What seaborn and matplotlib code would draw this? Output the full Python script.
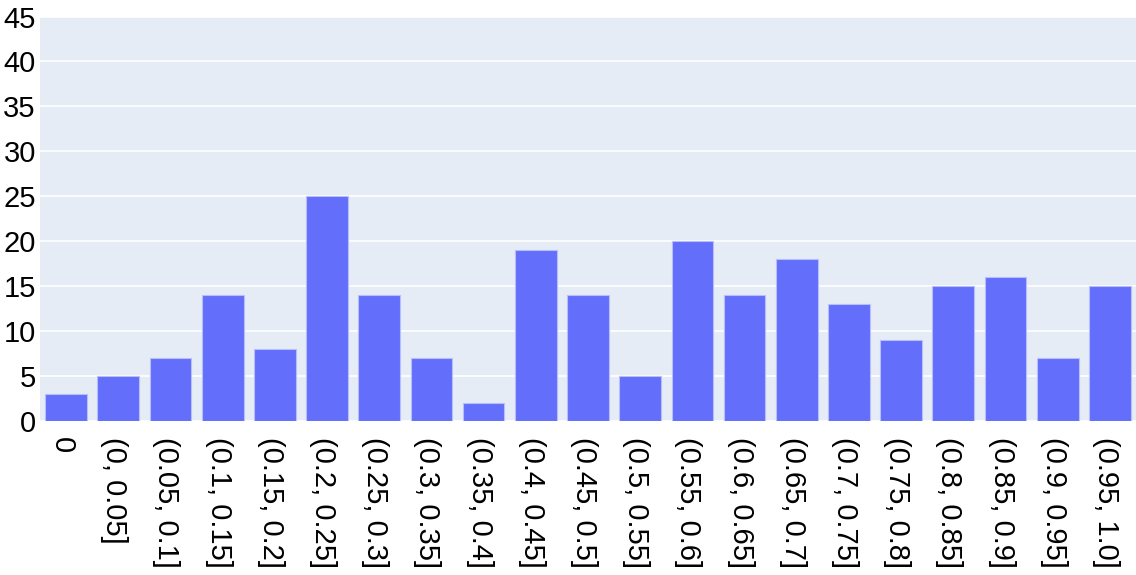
import pandas as pd
import matplotlib
matplotlib.use("Agg")
import matplotlib.pyplot as plt
import matplotlib.transforms as mtransforms
import seaborn as sns

# bins and counts
bins = ["0", "(0, 0.05]", "(0.05, 0.1]", "(0.1, 0.15]", "(0.15, 0.2]", "(0.2, 0.25]",
        "(0.25, 0.3]", "(0.3, 0.35]", "(0.35, 0.4]", "(0.4, 0.45]", "(0.45, 0.5]",
        "(0.5, 0.55]", "(0.55, 0.6]", "(0.6, 0.65]", "(0.65, 0.7]", "(0.7, 0.75]",
        "(0.75, 0.8]", "(0.8, 0.85]", "(0.85, 0.9]", "(0.9, 0.95]", "(0.95, 1.0]"]
counts = [3, 5, 7, 14, 8, 25, 14, 7, 2, 19, 14, 5, 20, 14, 18, 13, 9, 15, 16, 7, 15]
y_ticks = [0, 5, 10, 15, 20, 25, 30, 35, 40, 45]

df = pd.DataFrame({"bin": bins, "count": counts})

sns.set_theme(style="white")
plt.rcParams["font.family"] = ["Liberation Sans", "DejaVu Sans"]

fig = plt.figure(figsize=(11.36, 5.75), dpi=100)
ax = fig.add_axes([40 / 1136, (575 - 420.5) / 575, 1 - 40 / 1136, (420.5 - 16.5) / 575])
ax.set_facecolor("#E5ECF6")

sns.barplot(data=df, x="bin", y="count", color="#636EFA", saturation=1, width=0.8,
            edgecolor="#B8BEFB", linewidth=0.8, ax=ax, zorder=3)

ax.set_ylim(0, 45)
ax.set_xlim(-0.5, len(bins) - 0.5)
ax.set_yticks(y_ticks)
ax.grid(axis="y", color="white", linewidth=1.2, zorder=0)
ax.set_axisbelow(True)
for s in ax.spines.values():
    s.set_visible(False)

ax.set_xlabel("")
ax.set_ylabel("")
ax.tick_params(axis="y", length=0, pad=3, labelsize=21, labelcolor="black")
ax.tick_params(axis="x", length=0, pad=12, labelsize=21, labelcolor="black")
# nudge rotated labels a little left, like the reference
shift = mtransforms.ScaledTranslation(-4 / 100, 0, fig.dpi_scale_trans)
for lbl in ax.get_xticklabels():
    lbl.set_rotation(-90)
    lbl.set_ha("center")
    lbl.set_va("top")
    lbl.set_transform(lbl.get_transform() + shift)

fig.savefig("out.png", dpi=100)
